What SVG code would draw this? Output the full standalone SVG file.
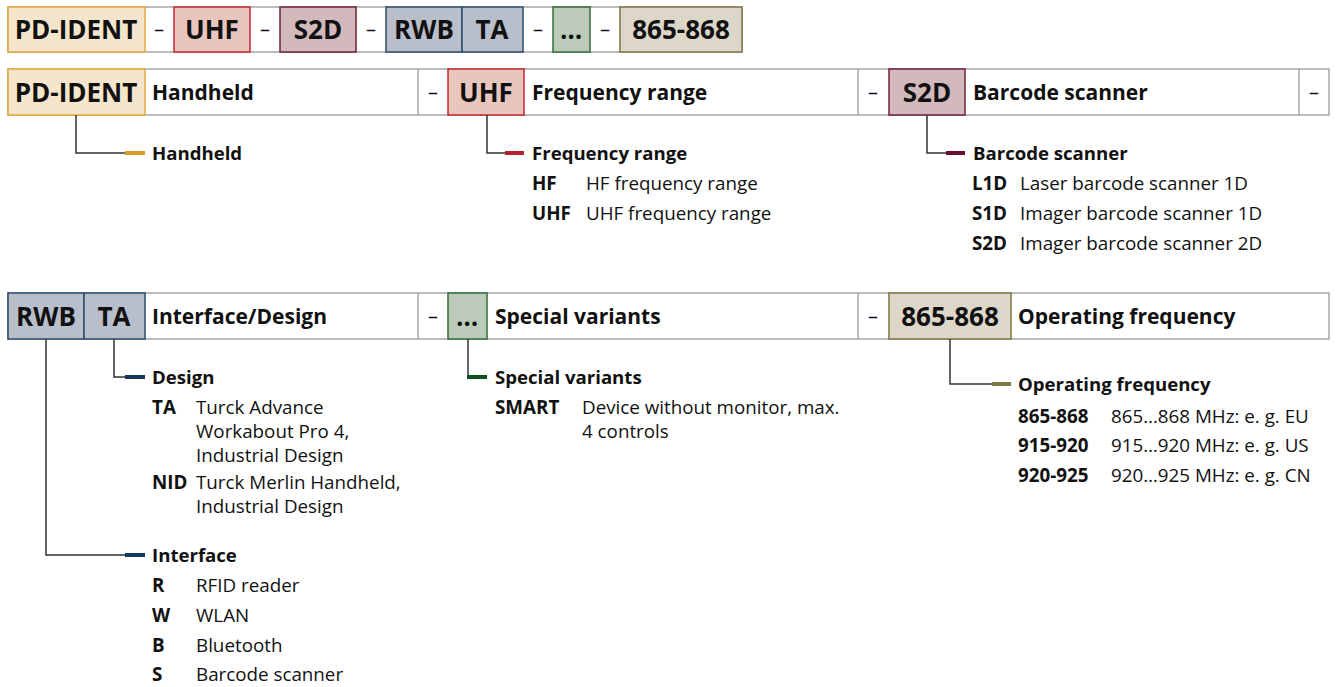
<svg xmlns="http://www.w3.org/2000/svg" width="1338" height="687" viewBox="0 0 1338 687">
<style>
text{font-family:"Open Sans","Noto Sans",sans-serif;fill:#111}
.code{font-size:26px;font-weight:700;text-anchor:middle}
.lab{font-size:21px;font-weight:700}
.sub{font-size:18.6px;font-weight:700}
.dash{font-size:20px;text-anchor:middle}
.k{font-size:18.8px;font-weight:700}
.d{font-size:18.8px}
.frame{fill:#fff;stroke:#a6a6a6;stroke-width:1.5}
.sep{stroke:#a6a6a6;stroke-width:1.5}
.ln{fill:none;stroke:#333;stroke-width:1.5}
.or{fill:#f5e6cb;stroke:#e2a83c;stroke-width:1.5}
.rd{fill:#e9c6bd;stroke:#c5282f;stroke-width:1.5}
.mr{fill:#d2b9bc;stroke:#722038;stroke-width:1.5}
.bl{fill:#b9becb;stroke:#2d4d6e;stroke-width:1.5}
.gr{fill:#bccbb9;stroke:#336e38;stroke-width:1.5}
.ol{fill:#ddd7c9;stroke:#7b7742;stroke-width:1.5}
</style>

<g id="code-row">
<rect class="frame" x="8" y="7" width="734" height="45"/>
<rect class="or" x="8" y="7" width="137" height="45"/><text class="code" x="76" y="39">PD-IDENT</text>
<text class="dash" x="159" y="36">–</text>
<rect class="rd" x="174" y="7" width="76" height="45"/><text class="code" x="212" y="39">UHF</text>
<text class="dash" x="265" y="36">–</text>
<rect class="mr" x="280" y="7" width="76" height="45"/><text class="code" x="318" y="39">S2D</text>
<text class="dash" x="371" y="36">–</text>
<rect class="bl" x="386" y="7" width="76" height="45"/><text class="code" x="424" y="39">RWB</text>
<rect class="bl" x="462" y="7" width="61" height="45"/><text class="code" x="492" y="39">TA</text>
<text class="dash" x="538" y="36">–</text>
<rect class="gr" x="553" y="7" width="37" height="45"/><text class="code" x="571" y="39">…</text>
<text class="dash" x="605" y="36">–</text>
<rect class="ol" x="620" y="7" width="122" height="45"/><text class="code" x="681" y="39">865-868</text>
</g>

<g id="row1">
<rect class="frame" x="8" y="69" width="1321" height="46"/>
<line class="sep" x1="418" y1="69" x2="418" y2="115"/>
<line class="sep" x1="858" y1="69" x2="858" y2="115"/>
<line class="sep" x1="1299" y1="69" x2="1299" y2="115"/>
<text class="dash" x="433" y="99">–</text>
<text class="dash" x="873" y="99">–</text>
<text class="dash" x="1314" y="99">–</text>
</g>

<g id="pd-ident">
<rect class="or" x="8" y="69" width="137" height="46"/><text class="code" x="76" y="102">PD-IDENT</text>
<text class="lab" x="152" y="100">Handheld</text>
<text class="sub" x="152" y="160">Handheld</text>
</g>

<g id="uhf">
<rect class="rd" x="448" y="69" width="76" height="46"/><text class="code" x="486" y="102">UHF</text>
<text class="lab" x="532" y="100">Frequency range</text>
<text class="sub" x="532" y="160">Frequency range</text>
<text class="k" x="532" y="190">HF</text><text class="d" x="586" y="190">HF frequency range</text>
<text class="k" x="532" y="220">UHF</text><text class="d" x="586" y="220">UHF frequency range</text>
</g>

<g id="s2d">
<rect class="mr" x="889" y="69" width="76" height="46"/><text class="code" x="927" y="102">S2D</text>
<text class="lab" x="973" y="100">Barcode scanner</text>
<text class="sub" x="973" y="160">Barcode scanner</text>
<text class="k" x="972" y="190">L1D</text><text class="d" x="1020" y="190">Laser barcode scanner 1D</text>
<text class="k" x="972" y="220">S1D</text><text class="d" x="1020" y="220">Imager barcode scanner 1D</text>
<text class="k" x="972" y="250">S2D</text><text class="d" x="1020" y="250">Imager barcode scanner 2D</text>
</g>

<g id="row2">
<rect class="frame" x="8" y="293" width="1321" height="46"/>
<line class="sep" x1="418" y1="293" x2="418" y2="339"/>
<line class="sep" x1="858" y1="293" x2="858" y2="339"/>
<text class="dash" x="433" y="323">–</text>
<text class="dash" x="873" y="323">–</text>
</g>

<g id="rwb-ta">
<rect class="bl" x="8" y="293" width="76" height="46"/><text class="code" x="46" y="326">RWB</text>
<rect class="bl" x="84" y="293" width="61" height="46"/><text class="code" x="114" y="326">TA</text>
<text class="lab" x="152" y="324">Interface/Design</text>
</g>

<g id="design">
<text class="sub" x="152" y="384">Design</text>
<text class="k" x="152" y="414">TA</text><text class="d" x="196" y="414">Turck Advance</text>
<text class="d" x="196" y="438">Workabout Pro 4,</text>
<text class="d" x="196" y="462">Industrial Design</text>
<text class="k" x="152" y="489">NID</text><text class="d" x="196" y="489">Turck Merlin Handheld,</text>
<text class="d" x="196" y="513">Industrial Design</text>
</g>

<g id="interface">
<text class="sub" x="152" y="562">Interface</text>
<text class="k" x="152" y="592">R</text><text class="d" x="196" y="592">RFID reader</text>
<text class="k" x="152" y="622">W</text><text class="d" x="196" y="622">WLAN</text>
<text class="k" x="152" y="652">B</text><text class="d" x="196" y="652">Bluetooth</text>
<text class="k" x="152" y="681">S</text><text class="d" x="196" y="681">Barcode scanner</text>
</g>

<g id="special">
<rect class="gr" x="448" y="293" width="39" height="46"/><text class="code" x="467" y="326">…</text>
<text class="lab" x="495" y="324">Special variants</text>
<text class="sub" x="495" y="384">Special variants</text>
<text class="k" x="495" y="414">SMART</text><text class="d" x="582" y="414">Device without monitor, max.</text>
<text class="d" x="582" y="438">4 controls</text>
</g>

<g id="opfreq">
<rect class="ol" x="889" y="293" width="122" height="46"/><text class="code" x="950" y="326">865-868</text>
<text class="lab" x="1018" y="324">Operating frequency</text>
<text class="sub" x="1018" y="391">Operating frequency</text>
<text class="k" x="1018" y="423">865-868</text><text class="d" x="1111" y="423">865…868 MHz: e. g. EU</text>
<text class="k" x="1018" y="452">915-920</text><text class="d" x="1111" y="452">915…920 MHz: e. g. US</text>
<text class="k" x="1018" y="482">920-925</text><text class="d" x="1111" y="482">920…925 MHz: e. g. CN</text>
</g>

<g id="connectors">
<polyline class="ln" points="76,115 76,153 125,153"/>
<line x1="125" y1="153" x2="145" y2="153" stroke="#d99a2b" stroke-width="4"/>
<polyline class="ln" points="487,115 487,153 505,153"/>
<line x1="505" y1="153" x2="524" y2="153" stroke="#b3222b" stroke-width="4"/>
<polyline class="ln" points="927,115 927,153 946,153"/>
<line x1="946" y1="153" x2="965" y2="153" stroke="#6a0f2e" stroke-width="4"/>
<polyline class="ln" points="114,339 114,377 125,377"/>
<line x1="125" y1="377" x2="145" y2="377" stroke="#16395a" stroke-width="4"/>
<polyline class="ln" points="46,339 46,555 125,555"/>
<line x1="125" y1="555" x2="145" y2="555" stroke="#16395a" stroke-width="4"/>
<polyline class="ln" points="468,339 468,377"/>
<line x1="467" y1="377" x2="487" y2="377" stroke="#0f4d1e" stroke-width="4"/>
<polyline class="ln" points="950,339 950,384 992,384"/>
<line x1="992" y1="384" x2="1011" y2="384" stroke="#7e7a48" stroke-width="4"/>
</g>
</svg>
